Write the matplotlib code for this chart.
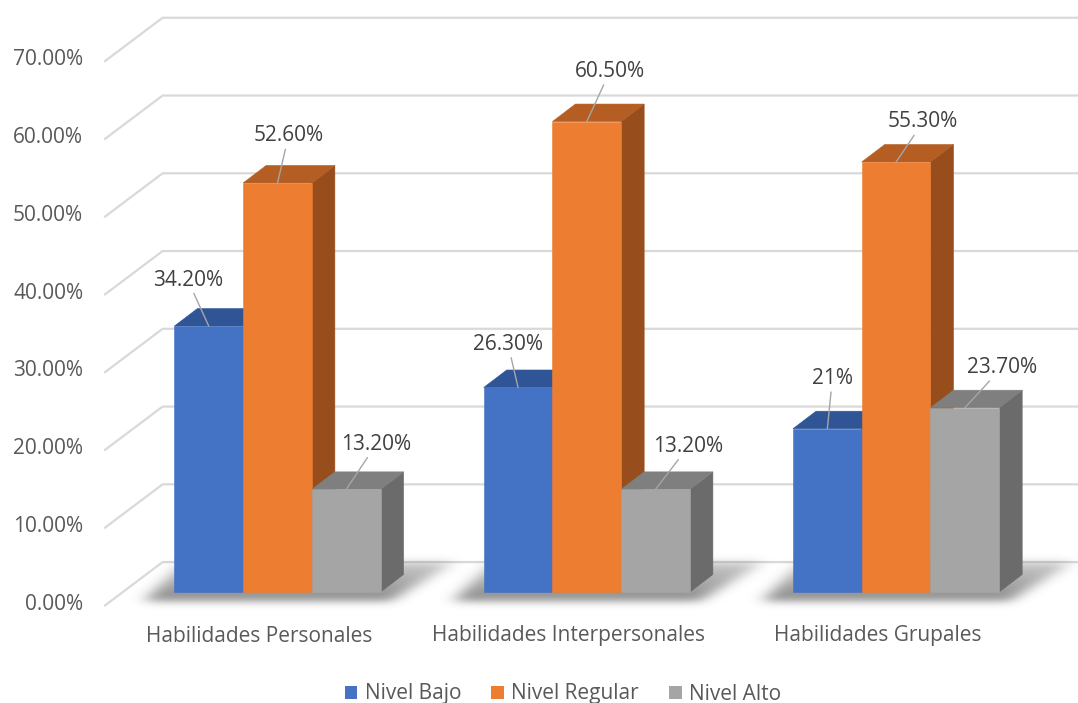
import numpy as np
import matplotlib
matplotlib.use("Agg")
import matplotlib.pyplot as plt
from matplotlib.patches import Polygon, Patch
from matplotlib.path import Path

# ---- data -------------------------------------------------------------
categories = ["Habilidades Personales", "Habilidades Interpersonales", "Habilidades Grupales"]
series_names = ["Nivel Bajo", "Nivel Regular", "Nivel Alto"]
nivel_bajo = [34.2, 26.3, 21.0]
nivel_regular = [52.6, 60.5, 55.3]
nivel_alto = [13.2, 13.2, 23.7]
value_labels = [
    ["34.20%", "26.30%", "21%"],
    ["52.60%", "60.50%", "55.30%"],
    ["13.20%", "13.20%", "23.70%"],
]
y_ticks = [0, 10, 20, 30, 40, 50, 60, 70]

series = [nivel_bajo, nivel_regular, nivel_alto]

# ---- styling ----------------------------------------------------------
FACE = ["#4472C4", "#ED7D31", "#A5A5A5"]
TOP = ["#2F5597", "#B45E24", "#7F7F7F"]
SIDE = ["#2A4A85", "#984D1D", "#6B6B6B"]
GRID = "#D9D9D9"
TICK_COLOR = "#595959"
LABEL_COLOR = "#404040"
FONT = "Open Sans"
FS = 15.0

# canvas / projection geometry (pixels)
W, H, DPI = 1078, 703, 100
PX_CAT = 309.3          # pixels per category on the bar plane
PX_PCT = 7.776          # pixels per percentage point
X0_PX, Y0_PX = 277.5, 592.0   # first category centre, zero line (bar plane)
WALL_DX, WALL_DY = 58.5, 44.0  # full floor depth offset
FRONT_FRAC = 0.32              # bar plane sits this far behind the front edge
BAR_DX, BAR_DY = 23.0, 17.5    # depth offset of each column
BAR_W = 1 / 4.5                # gap width 150 %

# hand-placed label offsets (pixels, x right / y up) per series and group
label_offsets = [
    [(-21, 46), (-10, 43), (5, 50)],
    [(11, 47), (23, 50), (27, 40)],
    [(30, 45), (33, 43), (37, 40)],
]


def dxd(px):
    return px / PX_CAT


def dyd(px):
    return px / PX_PCT


plt.rcParams["font.family"] = [FONT, "DejaVu Sans"]
fig = plt.figure(figsize=(W / DPI, H / DPI), dpi=DPI)
ax = fig.add_axes([0, 0, 1, 1])
ax.set_axis_off()
xlim = (-X0_PX / PX_CAT, (W - X0_PX) / PX_CAT)
ylim = (-(H - Y0_PX) / PX_PCT, Y0_PX / PX_PCT)
ax.set_xlim(*xlim)
ax.set_ylim(*ylim)

n_cat = len(categories)
front_dx, front_dy = -FRONT_FRAC * dxd(WALL_DX), -FRONT_FRAC * dyd(WALL_DY)
back_dx, back_dy = (1 - FRONT_FRAC) * dxd(WALL_DX), (1 - FRONT_FRAC) * dyd(WALL_DY)
left_edge = -0.5
right_edge = n_cat - 0.5

# ---- walls: gridlines on side and back walls --------------------------
for v in y_ticks:
    xs = [left_edge + front_dx, left_edge + back_dx, right_edge + back_dx]
    ys = [v + front_dy, v + back_dy, v + back_dy]
    ax.plot(xs, ys, color=GRID, lw=1.6, zorder=1, solid_capstyle="butt")
    ax.text(left_edge + front_dx - dxd(21), v + front_dy + dyd(2), f"{v:.2f}%",
            ha="right", va="center", fontsize=FS, color=TICK_COLOR)

# ---- soft floor shadow under each group -------------------------------
res_x, res_y = 1.0 / PX_CAT, 1.0 / PX_PCT
gx = np.arange(xlim[0], xlim[1], res_x)
gy = np.arange(dyd(-30), dyd(50), res_y)
GX, GY = np.meshgrid(gx, gy)
pts = np.column_stack([GX.ravel(), GY.ravel()])
alpha = np.zeros(GX.shape)
for g in range(n_cat):
    xa = g - 1.5 * BAR_W
    xb = g + 1.5 * BAR_W
    poly = Path([
        (xa - dxd(30), dyd(-9)),
        (xb + dxd(10), dyd(-9)),
        (xb + dxd(BAR_DX + 50), dyd(BAR_DY + 12)),
        (xa + dxd(BAR_DX - 15), dyd(BAR_DY + 12)),
    ])
    inside = poly.contains_points(pts).reshape(GX.shape)
    # darker toward the front
    depth = np.clip((GY - dyd(-9)) / dyd(BAR_DY + 21), 0, 1)
    alpha = np.maximum(alpha, inside * (0.68 - 0.38 * depth))


def blur(a, sigma, axis):
    r = int(3 * sigma)
    k = np.exp(-0.5 * (np.arange(-r, r + 1) / sigma) ** 2)
    k /= k.sum()
    return np.apply_along_axis(lambda m: np.convolve(m, k, mode="same"), axis, a)


alpha = blur(blur(alpha, 8, 1), 4, 0)
rgba = np.zeros(GX.shape + (4,))
rgba[..., :3] = 0.32
rgba[..., 3] = alpha
ax.imshow(rgba, extent=(gx[0], gx[-1], gy[0], gy[-1]), origin="lower",
          aspect="auto", zorder=2, interpolation="bilinear")

# ---- 3D columns --------------------------------------------------------
ddx, ddy = dxd(BAR_DX), dyd(BAR_DY)
z = 3
for g in range(n_cat):
    for i, vals in enumerate(series):
        v = vals[g]
        x0 = g - 1.5 * BAR_W + i * BAR_W
        x1 = x0 + BAR_W
        side = Polygon([(x1, 0), (x1 + ddx, ddy), (x1 + ddx, v + ddy), (x1, v)],
                       closed=True, fc=SIDE[i], ec=SIDE[i], lw=0.4, zorder=z)
        top = Polygon([(x0, v), (x1, v), (x1 + ddx, v + ddy), (x0 + ddx, v + ddy)],
                      closed=True, fc=TOP[i], ec=TOP[i], lw=0.4, zorder=z)
        ax.add_patch(side)
        ax.add_patch(top)
        ax.bar(x0 + BAR_W / 2, v, width=BAR_W, color=FACE[i], ec=FACE[i], lw=0.4,
               zorder=z + 0.5)
        z += 1

# ---- data labels with leader lines ------------------------------------
for i, vals in enumerate(series):
    for g in range(n_cat):
        v = vals[g]
        xc = g - 1.5 * BAR_W + (i + 0.5) * BAR_W
        ox, oy = label_offsets[i][g]
        ax.annotate(value_labels[i][g], xy=(xc, v), xytext=(ox, oy),
                    textcoords="offset pixels", ha="center", va="center",
                    fontsize=FS, color=LABEL_COLOR, zorder=50,
                    arrowprops=dict(arrowstyle="-", color="#A6A6A6", lw=1.0,
                                    shrinkA=0, shrinkB=0))

# ---- category labels ---------------------------------------------------
for g, name in enumerate(categories):
    ax.text(g + front_dx, dyd(-44), name, ha="center", va="center",
            fontsize=FS, color=TICK_COLOR)

# ---- legend -------------------------------------------------------------
handles = [Patch(facecolor=FACE[i], edgecolor="none", label=series_names[i])
           for i in range(len(series_names))]
ax.legend(handles=handles, loc="center", bbox_to_anchor=(563 / W, 9 / H),
          ncol=3, frameon=False, fontsize=FS, labelcolor=TICK_COLOR,
          handlelength=0.6, handleheight=0.6, handletextpad=0.35,
          columnspacing=1.45, borderpad=0)

fig.savefig("out.png", dpi=DPI, facecolor="white")
